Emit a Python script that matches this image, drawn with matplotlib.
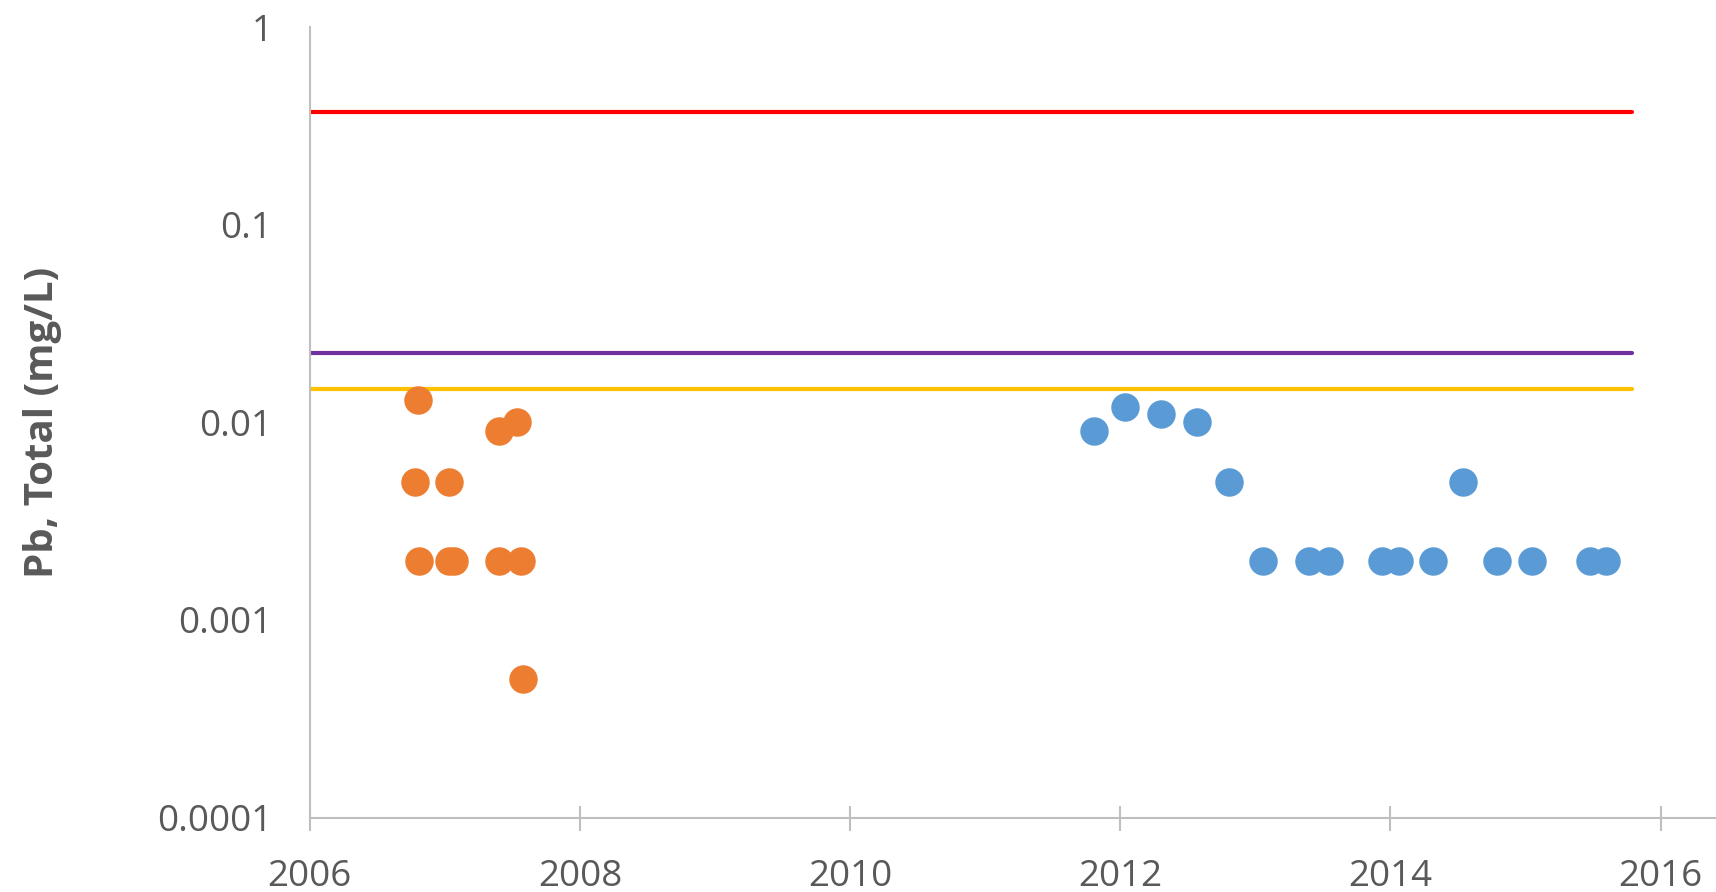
import numpy as np
import matplotlib.pyplot as plt

plt.rcParams.update({'font.family': ['Open Sans', 'DejaVu Sans']})

# sampling dates (decimal year) and Pb totals (mg/L)
early_dates = [2006.804, 2006.782, 2007.029, 2006.806, 2007.029, 2007.068,
               2007.401, 2007.537, 2007.401, 2007.562, 2007.579]
early_pb = [0.013, 0.005, 0.005, 0.002, 0.002, 0.002,
            0.009, 0.010, 0.002, 0.002, 0.0005]

late_dates = [2011.804, 2012.036, 2012.298, 2012.568, 2012.803, 2013.055,
              2013.397, 2013.545, 2013.939, 2014.064, 2014.316, 2014.536,
              2014.788, 2015.045, 2015.476, 2015.596]
late_pb = [0.009, 0.012, 0.011, 0.010, 0.005, 0.002,
           0.002, 0.002, 0.002, 0.002, 0.002, 0.005,
           0.002, 0.002, 0.002, 0.002]

# guideline levels (mg/L) drawn across the record
limit_span = [2006.0, 2015.79]
limit_red = 0.375
limit_purple = 0.0226
limit_yellow = 0.0147

grey = '#595959'
axis_grey = '#BFBFBF'

fig = plt.figure(figsize=(17.16, 8.92), dpi=100)
ax = fig.add_axes([0.1805, 0.0835, 0.8195, 0.8858])

for lvl, c in [(limit_red, '#FF0000'), (limit_purple, '#7030A0'), (limit_yellow, '#FFC000')]:
    ax.plot(limit_span, [lvl, lvl], color=c, lw=3.0, solid_capstyle='round', zorder=2)

ax.plot(early_dates, early_pb, 'o', color='#ED7D31', ms=20.5, mew=0, zorder=3)
ax.plot(late_dates, late_pb, 'o', color='#5B9BD5', ms=20.5, mew=0, zorder=3)

ax.set_yscale('log')
ax.set_ylim(0.0001, 1)
ax.set_xlim(2006, 2016.41)
ax.set_yticks([0.0001, 0.001, 0.01, 0.1, 1])
ax.set_yticklabels(['0.0001', '0.001', '0.01', '0.1', '1'])
ax.yaxis.set_minor_locator(plt.NullLocator())
ax.set_xticks(np.arange(2006, 2017, 2))

for side in ['top', 'right']:
    ax.spines[side].set_visible(False)
for side in ['left', 'bottom']:
    ax.spines[side].set_color(axis_grey)
    ax.spines[side].set_linewidth(1.5)

ax.tick_params(axis='y', length=0, pad=27, labelsize=26.5, labelcolor=grey)
ax.tick_params(axis='x', direction='inout', length=18, width=1.5, color=axis_grey,
               pad=21, labelsize=26.5, labelcolor=grey)

ax.set_ylabel('Pb, Total (mg/L)', fontsize=29, fontweight='bold', color=grey)
ax.yaxis.set_label_coords(-0.176, 0.5)

fig.savefig('out.png', dpi=100)
